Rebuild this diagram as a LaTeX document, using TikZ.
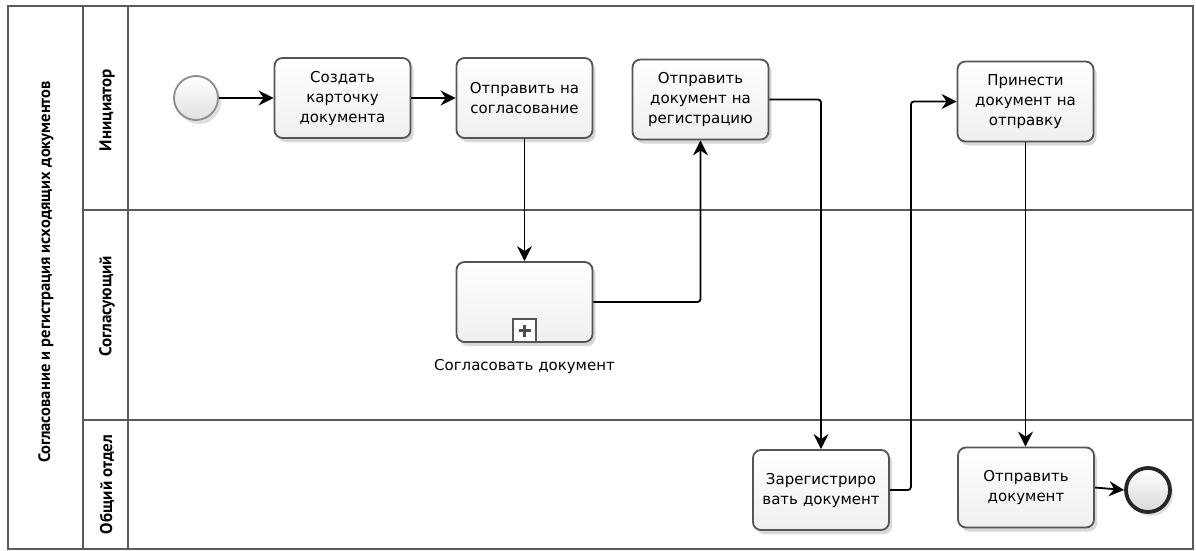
\documentclass[tikz,border=0pt]{standalone}
\usepackage{fontspec}
\usetikzlibrary{arrows.meta,shadows,calc}
\newfontfamily\taskfont{DejaVu Sans}
\newfontfamily\lanefont{PT Sans}
\definecolor{framegray}{HTML}{5A5A5A}
\definecolor{taskborder}{HTML}{555555}
\definecolor{taskfill}{HTML}{EFEFEF}
\begin{document}
\begin{tikzpicture}[x=1pt,y=-1pt,
  pool/.style={draw=framegray,line width=1.1pt},
  lanetext/.style={rotate=90,font=\lanefont\bfseries\fontsize{17}{19}\selectfont,inner sep=0pt},
  task/.style={draw=taskborder,line width=1.8pt,rounded corners=8pt,
    top color=white,bottom color=taskfill,minimum width=136pt,minimum height=80pt,
    align=center,text width=126pt,inner sep=0pt,
    font=\taskfont\fontsize{15}{20}\selectfont,
    drop shadow={shadow xshift=3pt,shadow yshift=-4pt,opacity=0.25,fill=black!60}},
  startev/.style={circle,draw=black!45,line width=1.8pt,minimum size=44pt,inner sep=0pt,
    top color=white,bottom color=black!12,
    drop shadow={shadow xshift=3pt,shadow yshift=-4pt,opacity=0.2,fill=black!60}},
  endev/.style={circle,draw=black!85,line width=3.8pt,minimum size=44pt,inner sep=0pt,
    top color=white,bottom color=black!15,
    drop shadow={shadow xshift=3pt,shadow yshift=-4pt,opacity=0.2,fill=black!60}},
  flow/.style={draw=black,line width=1.8pt,rounded corners=3pt,
    -{Stealth[length=15pt,width=15pt,inset=5pt]}},
]
\useasboundingbox (0,0) rectangle (1196,551);
\fill[white] (0,0) rectangle (1196,551);

% pool and lanes
\draw[pool] (8,6) rectangle (1193,549);
\draw[pool] (83,6) -- (83,549);
\draw[pool] (128,6) -- (128,549);
\draw[pool] (83,210) -- (1193,210);
\draw[pool] (83,420) -- (1193,420);

\node[lanetext,font=\lanefont\bfseries\fontsize{16.5}{19}\selectfont] (poolname) at (46,272)
  {Согласование и регистрация исходящих документов};
\node[lanetext] (lane1) at (107,110) {Инициатор};
\node[lanetext] (lane2) at (107,306) {Согласующий};
\node[lanetext] (lane3) at (107,484.5) {Общий отдел};

% events and tasks
\node[startev] (start) at (196,98) {};
\node[task] (create) at (342.5,98) {Создать\\карточку\\документа};
\node[task] (toapprove) at (524.5,98) {Отправить на\\согласование};
\node[task] (toregister) at (700.5,99.5) {Отправить\\документ на\\регистрацию};
\node[task] (bring) at (1025.5,101.5) {Принести\\документ на\\отправку};
\node[task] (approve) at (524.5,302) {};
\node[task] (register) at (821,490) {Зарегистриро\\вать документ};
\node[task] (senddoc) at (1026,487.5) {Отправить\\документ};
\node[endev] (end) at (1148,490) {};

% collapsed sub-process marker and label
\node[draw=taskborder,line width=1.5pt,fill=white,minimum size=23pt,inner sep=0pt,
  anchor=south] (marker) at (approve.south) {};
\draw[line width=3.5pt,black!70] ($(marker.center)+(-6,0)$) -- ($(marker.center)+(6,0)$);
\draw[line width=3.5pt,black!70] ($(marker.center)+(0,-6)$) -- ($(marker.center)+(0,6)$);
\node[font=\taskfont\fontsize{15}{20}\selectfont,anchor=north] (approvelabel)
  at ($(approve.south)+(0,13)$) {Согласовать документ};

% sequence flows
\draw[flow] (start) -- (create);
\draw[flow] (create) -- (toapprove);
\draw[flow] (toapprove) -- (approve);
\draw[flow] (approve.east) -| (toregister.south);
\draw[flow] (toregister.east) -| (register.north);
\draw[flow] (register.east) -- ++(21,0) |- (bring.west);
\draw[flow] (bring.south) -- (bring.south |- senddoc.north);
\draw[flow] (senddoc.east) -- (end.west);
\end{tikzpicture}
\end{document}
